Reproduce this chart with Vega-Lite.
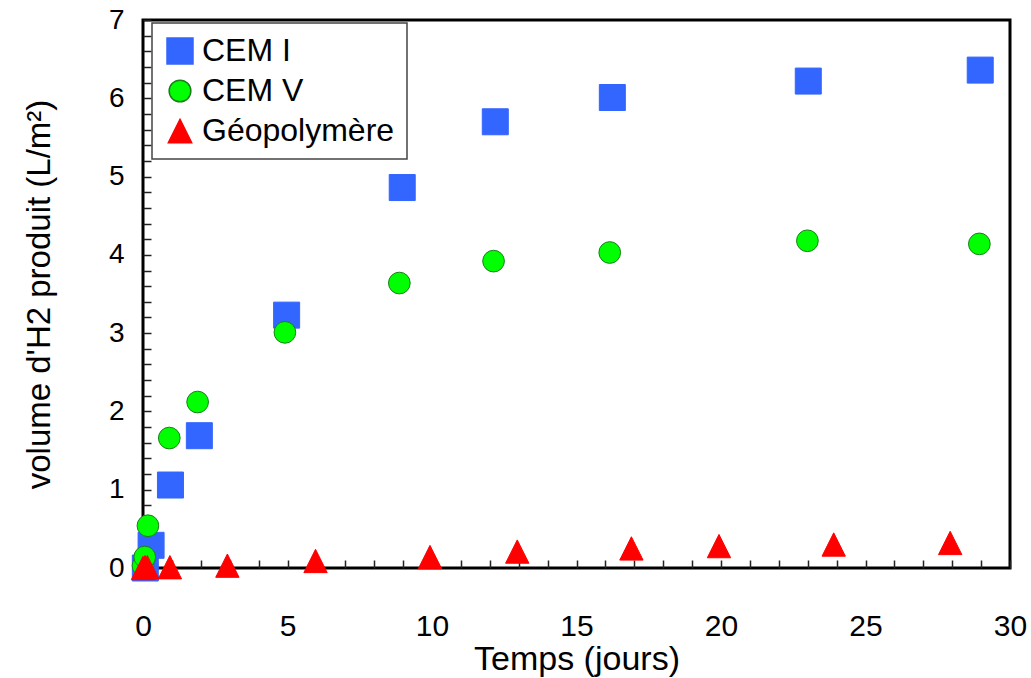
{
  "$schema": "https://vega.github.io/schema/vega-lite/v6.json",
  "width": 867,
  "height": 548,
  "autosize": {"type": "none"},
  "padding": {"left": 143, "top": 20, "right": 21, "bottom": 110},
  "background": "white",
  "data": {
    "values": [
      {"serie": "CEM I", "t": 0.08, "v": 0.0},
      {"serie": "CEM I", "t": 0.28, "v": 0.29},
      {"serie": "CEM I", "t": 0.95, "v": 1.06},
      {"serie": "CEM I", "t": 1.95, "v": 1.69},
      {"serie": "CEM I", "t": 4.97, "v": 3.23},
      {"serie": "CEM I", "t": 8.97, "v": 4.86},
      {"serie": "CEM I", "t": 12.19, "v": 5.70},
      {"serie": "CEM I", "t": 16.24, "v": 6.01},
      {"serie": "CEM I", "t": 23.02, "v": 6.22},
      {"serie": "CEM I", "t": 28.97, "v": 6.36},
      {"serie": "CEM V", "t": 0.0, "v": 0.03},
      {"serie": "CEM V", "t": 0.06, "v": 0.14},
      {"serie": "CEM V", "t": 0.17, "v": 0.54},
      {"serie": "CEM V", "t": 0.91, "v": 1.66},
      {"serie": "CEM V", "t": 1.89, "v": 2.12},
      {"serie": "CEM V", "t": 4.91, "v": 3.01},
      {"serie": "CEM V", "t": 8.87, "v": 3.64},
      {"serie": "CEM V", "t": 12.13, "v": 3.92},
      {"serie": "CEM V", "t": 16.15, "v": 4.03},
      {"serie": "CEM V", "t": 22.99, "v": 4.18},
      {"serie": "CEM V", "t": 28.94, "v": 4.14},
      {"serie": "Géopolymère", "t": 0.0, "v": 0.0},
      {"serie": "Géopolymère", "t": 0.07, "v": 0.01},
      {"serie": "Géopolymère", "t": 0.15, "v": 0.01},
      {"serie": "Géopolymère", "t": 0.93, "v": 0.01},
      {"serie": "Géopolymère", "t": 2.92, "v": 0.03},
      {"serie": "Géopolymère", "t": 5.97, "v": 0.09},
      {"serie": "Géopolymère", "t": 9.93, "v": 0.14},
      {"serie": "Géopolymère", "t": 12.95, "v": 0.21},
      {"serie": "Géopolymère", "t": 16.9, "v": 0.25},
      {"serie": "Géopolymère", "t": 19.93, "v": 0.28},
      {"serie": "Géopolymère", "t": 23.9, "v": 0.30},
      {"serie": "Géopolymère", "t": 27.93, "v": 0.32}
    ]
  },
  "mark": {"type": "point", "filled": true, "opacity": 1, "strokeWidth": 1},
  "encoding": {
    "x": {
      "field": "t",
      "type": "quantitative",
      "scale": {"domain": [0, 30], "nice": false, "zero": false},
      "axis": {
        "title": "Temps (jours)",
        "values": [0,1,2,3,4,5,6,7,8,9,10,11,12,13,14,15,16,17,18,19,20,21,22,23,24,25,26,27,28,29,30],
        "labelExpr": "datum.value % 5 === 0 ? datum.label : ''",
        "domain": false,
        "offset": -8,
        "tickSize": 8,
        "labelPadding": 43,
        "labelFontSize": 30,
        "titleFontSize": 34,
        "titleBaseline": "alphabetic",
        "titleY": 109,
        "labelFlush": false
      }
    },
    "y": {
      "field": "v",
      "type": "quantitative",
      "scale": {"domain": [0, 7], "nice": false, "zero": false},
      "axis": {
        "title": "volume d'H2 produit (L/m²)",
        "values": [0,0.2,0.4,0.6,0.8,1,1.2,1.4,1.6,1.8,2,2.2,2.4,2.6,2.8,3,3.2,3.4,3.6,3.8,4,4.2,4.4,4.6,4.8,5,5.2,5.4,5.6,5.8,6,6.2,6.4,6.6,6.8,7],
        "labelExpr": "abs(datum.value - round(datum.value)) < 0.001 ? format(datum.value, 'd') : ''",
        "domain": false,
        "offset": -8,
        "tickSize": 8,
        "labelPadding": 19,
        "labelFontSize": 28,
        "titleFontSize": 33,
        "titleBaseline": "alphabetic",
        "titleX": -102,
        "labelFlush": false
      }
    },
    "color": {
      "field": "serie",
      "type": "nominal",
      "scale": {"domain": ["CEM I", "CEM V", "Géopolymère"], "range": ["#3366ff", "#00ff00", "#ff0000"]},
      "legend": {
        "title": null,
        "orient": "none",
        "legendX": 9,
        "legendY": 3,
        "labelFontSize": 32,
        "labelOffset": 6,
        "rowPadding": 8,
        "padding": 12,
        "strokeColor": "#444444",
        "fillColor": "white",
        "labelLimit": 400,
        "encode": {
          "labels": {"update": {"fill": {"scale": "color", "field": "value"}}}
        }
      }
    },
    "stroke": {
      "field": "serie",
      "type": "nominal",
      "scale": {"domain": ["CEM I", "CEM V", "Géopolymère"], "range": ["#3366ff", "#1a7f1a", "#ff0000"]}
    },
    "shape": {
      "field": "serie",
      "type": "nominal",
      "scale": {"domain": ["CEM I", "CEM V", "Géopolymère"], "range": ["square", "circle", "M0,-1L1,1L-1,1Z"]}
    },
    "size": {
      "field": "serie",
      "type": "nominal",
      "scale": {"type": "ordinal", "domain": ["CEM I", "CEM V", "Géopolymère"], "range": [676, 471, 545]}
    }
  },
  "config": {
    "font": "Liberation Sans",
    "view": {"stroke": "black", "strokeWidth": 3},
    "axis": {
      "grid": false,
      "tickColor": "#222222",
      "tickWidth": 1.5,
      "labelColor": "black",
      "titleColor": "black",
      "labelFont": "Liberation Sans",
      "titleFont": "Liberation Sans",
      "titleFontWeight": "normal"
    },
    "legend": {"labelFont": "Liberation Sans", "strokeWidth": 1.5}
  }
}
